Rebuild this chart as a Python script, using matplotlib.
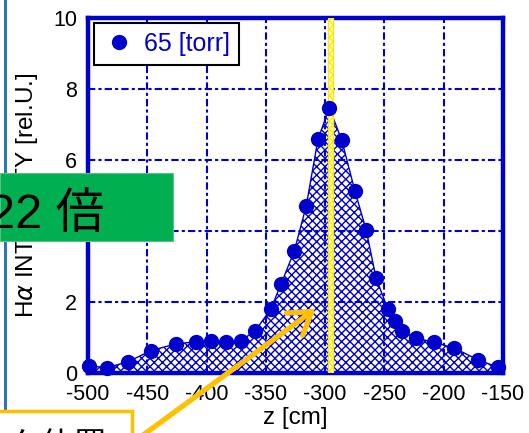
import matplotlib
matplotlib.use("Agg")
import matplotlib.pyplot as plt
from matplotlib.patches import Rectangle, FancyArrowPatch
from matplotlib.lines import Line2D

# data
z_cm = [-499, -484, -466, -447, -426, -409, -396, -384, -371, -359, -346, -337,
        -326, -316, -306, -296.5, -286, -275, -265.5, -257, -247, -241, -235.5,
        -223, -208.5, -191, -171, -154]
intensity = [0.20, 0.15, 0.32, 0.63, 0.82, 0.88, 0.90, 0.88, 0.91, 1.19, 1.79, 2.52,
             3.44, 4.70, 6.59, 7.47, 6.56, 5.14, 4.04, 2.67, 1.79, 1.47, 1.18,
             0.98, 0.87, 0.70, 0.37, 0.16]
xticks = [-500, -450, -400, -350, -300, -250, -200, -150]
yticks = [0, 2, 4, 6, 8, 10]
peak_band = (-297.5, -293.3)
series_label = "65 [torr]"

W, H = 529, 433
blue = "#0000CC"
orange = "#FFC000"

plt.rcParams["font.family"] = ["Liberation Sans", "Noto Sans CJK JP", "DejaVu Sans"]
plt.rcParams["hatch.linewidth"] = 1.0
plt.rcParams["axes.unicode_minus"] = False

fig = plt.figure(figsize=(W / 100, H / 100), dpi=100)
ax = fig.add_axes([88 / W, 1 - 373 / H, 415 / W, 355 / H])

ax.set_xlim(-500, -150)
ax.set_ylim(0, 10)
ax.set_xticks(xticks)
ax.set_yticks(yticks)
ax.tick_params(length=0, labelsize=15.5, colors="black", pad=8)
for s in ax.spines.values():
    s.set_color(blue)
    s.set_linewidth(3.2)
ax.grid(True, color=blue, lw=1.5, ls=(0, (3.5, 1.5, 1.5, 1.5)))
ax.set_axisbelow(True)

# hatched area under the profile
ax.fill_between(z_cm, intensity, 0, facecolor="none", edgecolor=blue,
                hatch="xxxx", lw=0, zorder=2)
ax.plot(z_cm, intensity, color=blue, lw=1, zorder=3)

# yellow marker band at the peak
ax.axvspan(*peak_band, facecolor="#FFFFE0", edgecolor="#FFE800", hatch="xxxx",
           lw=1.0, zorder=3)

ax.plot(z_cm, intensity, "o", color=blue, ms=10, zorder=4, clip_on=False,
        label=series_label)

leg = ax.legend(loc="upper left", bbox_to_anchor=(94 / W, 1 - 23 / H),
                bbox_transform=fig.transFigure, borderaxespad=0,
                fontsize=18, handlelength=1.3, handletextpad=0.35,
                borderpad=0.35, fancybox=False, framealpha=1)
leg.get_frame().set_edgecolor("black")
leg.get_frame().set_linewidth(1.5)
for t in leg.get_texts():
    t.set_color(blue)

fig.text(27 / W, 1 - 195 / H, "H$\\alpha$ INTENSITY [rel.U.]", rotation=90,
         ha="center", va="center", fontsize=17.5)
fig.text(295 / W, 1 - 418 / H, "z [cm]", ha="center", va="center", fontsize=17.5)

# slide overlays
fig.add_artist(Line2D([5 / W, 5 / W], [1 - 410 / H, 1], color="#2E75B6", lw=2.2))
fig.patches.append(Rectangle((0, 1 - 241 / H), 173 / W, 68 / H,
                             transform=fig.transFigure, facecolor="#00B050",
                             edgecolor="#5CC086", lw=0.8, zorder=5))
fig.text(-12 / W, 1 - 228 / H, "22 倍", fontsize=35, ha="left", va="baseline",
         zorder=6)

fig.patches.append(Rectangle((-10 / W, 1 - 445 / H), 142 / W, 34 / H,
                             transform=fig.transFigure, facecolor="white",
                             edgecolor=orange, lw=2.5, zorder=5))
fig.text(108 / W, 1 - 456 / H, "ピーク位置", fontsize=24, ha="right", va="baseline",
         family=["Noto Sans CJK JP", "DejaVu Sans"], zorder=6)

fig.add_artist(FancyArrowPatch((135 / W, 1 - 441 / H), (318 / W, 1 - 307 / H),
                               transform=fig.transFigure, arrowstyle="->,head_length=0.7,head_width=0.45",
                               mutation_scale=22, color=orange, lw=3.8, zorder=6))

fig.savefig("out.png", dpi=100)
